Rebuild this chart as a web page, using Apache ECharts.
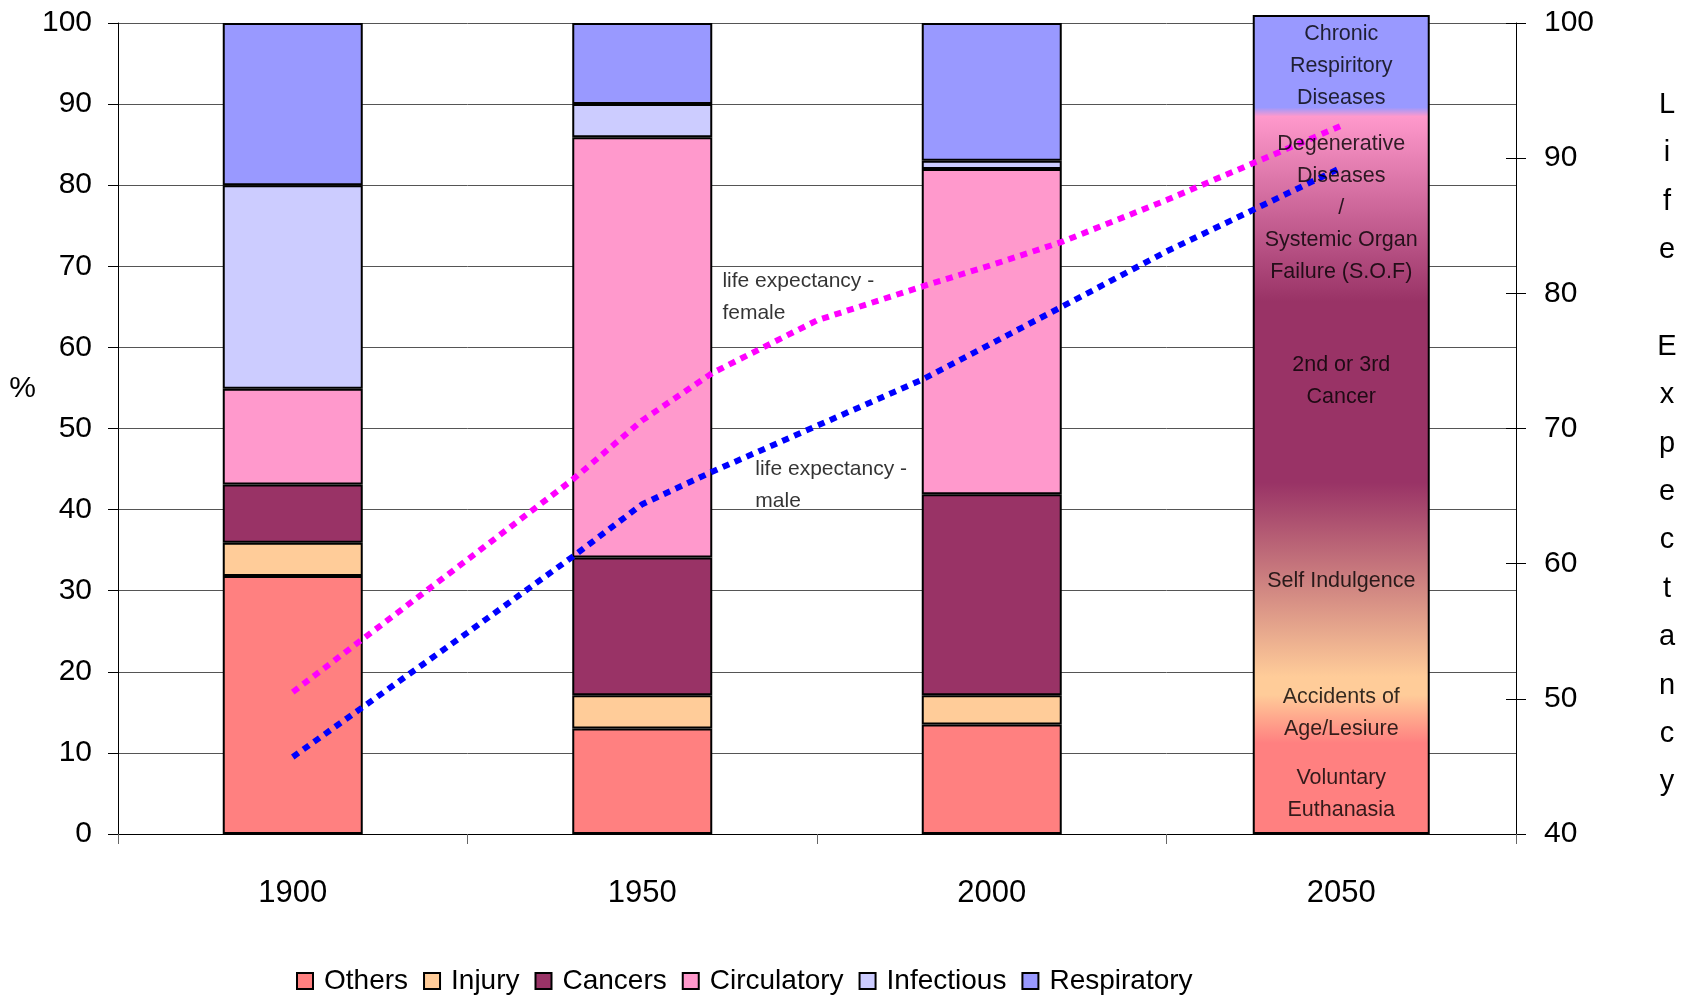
<!DOCTYPE html>
<html>
<head>
<meta charset="utf-8">
<script src="https://cdn.jsdelivr.net/npm/echarts@6/dist/echarts.min.js"></script>
<style>html,body{margin:0;padding:0;background:#fff}#c{width:1686px;height:998px}</style>
</head>
<body>
<div id="c"></div>
<script>
// ---- data ----
const categories = ['1900', '1950', '2000', '2050'];
const others      = [31.8, 13.0, 13.5, '-'];
const injury      = [4.1, 4.1, 3.6, '-'];
const cancers     = [7.2, 17.0, 24.8, '-'];
const circulatory = [11.8, 51.8, 40.1, '-'];
const infectious  = [25.1, 4.1, 1.0, '-'];
const respiratory = [20.0, 10.0, 17.0, '-'];
const seriesNames = ['Others', 'Injury', 'Cancers', 'Circulatory', 'Infectious', 'Respiratory'];
const projectionBox = ['-', '-', '-', 101];
const projectionLabels = [
  ['2050', 94.7, 'Chronic\nRespiritory\nDiseases'],
  ['2050', 77.2, 'Degenerative\nDiseases\n/\nSystemic Organ\nFailure (S.O.F)'],
  ['2050', 55.8, '2nd or 3rd\nCancer'],
  ['2050', 31.2, 'Self Indulgence'],
  ['2050', 14.9, 'Accidents of\nAge/Lesiure'],
  ['2050', 4.9, 'Voluntary\nEuthanasia']
];
const femaleLE = [[1900, 50.5], [1925, 60.3], [1940, 66.2], [1950, 70.6], [1960, 74.1], [1975, 78.0], [1990, 80.5], [2000, 82.1], [2010, 83.8], [2025, 86.9], [2050, 92.4]];
const maleLE   = [[1900, 45.7], [1925, 54.9], [1940, 60.5], [1950, 64.4], [1960, 66.8], [1975, 70.2], [1990, 73.6], [2000, 76.3], [2010, 79.0], [2025, 83.1], [2050, 89.3]];
const lineLabels = [
  [1961.4, 79.7, 'life expectancy -\nfemale'],
  [1966.1, 65.8, 'life expectancy -\nmale']
];
const rightAxisTitle = 'Life Expectancy';
const leftTicks = {min: 0, max: 100, interval: 10};
const rightTicks = {min: 40, max: 100, interval: 10};
const yearRange = {min: 1875, max: 2075};

// ---- styles ----
const colors = ['#FF8080', '#FFCC99', '#993366', '#FF99CC', '#CCCCFF', '#9999FF'];
const FONT = 'Liberation Sans, Arial, sans-serif';
const values = [others, injury, cancers, circulatory, infectious, respiratory];

const chart = echarts.init(document.getElementById('c'), null, {renderer: 'canvas'});

const barSeries = seriesNames.map((n, i) => ({
  name: n, type: 'bar', stack: 'total', xAxisIndex: 0, yAxisIndex: 0,
  barWidth: 140, data: values[i], z: 2,
  itemStyle: {color: colors[i], borderColor: '#000', borderWidth: 2}
}));

// vertical stacked letters, with a small spacer line on top
const verticalTitle = '{s| }\n' + rightAxisTitle.split('').map(ch => ch === ' ' ? '' : ch).join('\n');

const option = {
  animation: false,
  backgroundColor: '#fff',
  textStyle: {fontFamily: FONT},
  grid: {left: 118, right: 170, top: 23, bottom: 164, containLabel: false, outerBoundsMode: 'none'},
  legend: {
    data: seriesNames, top: 962, left: 291,
    itemWidth: 16, itemHeight: 16, itemGap: 15,
    icon: 'rect',
    textStyle: {fontSize: 28, color: '#000', fontFamily: FONT, padding: [0, 0, 0, 6]}
  },
  xAxis: [
    {type: 'category', data: categories, position: 'bottom',
     axisLine: {show: true, lineStyle: {color: '#000', width: 1}},
     axisTick: {show: true, length: 10, lineStyle: {color: '#666'}},
     axisLabel: {fontSize: 31, margin: 44, color: '#000', fontFamily: FONT},
     splitLine: {show: false}},
    {type: 'category', data: categories, show: false},
    {type: 'value', min: yearRange.min, max: yearRange.max, show: false}
  ],
  yAxis: [
    {type: 'value', min: leftTicks.min, max: leftTicks.max, interval: leftTicks.interval, position: 'left',
     name: '%\n ', nameLocation: 'middle', nameRotate: 0, nameGap: 75,
     nameTextStyle: {fontSize: 30, lineHeight: 80, color: '#000', fontFamily: FONT},
     axisLine: {show: true, lineStyle: {color: '#000', width: 1}},
     axisTick: {show: true, length: 10, lineStyle: {color: '#000'}},
     axisLabel: {fontSize: 30, margin: 26, color: '#000', fontFamily: FONT},
     splitLine: {show: true, lineStyle: {color: '#555', width: 1}}},
    {type: 'value', min: rightTicks.min, max: rightTicks.max, interval: rightTicks.interval, position: 'right',
     name: verticalTitle, nameLocation: 'middle', nameRotate: 0, nameGap: 151,
     nameTextStyle: {fontSize: 29, lineHeight: 48.4, color: '#000', fontFamily: FONT, align: 'center',
                     rich: {s: {fontSize: 10, lineHeight: 30}}},
     axisLine: {show: true, lineStyle: {color: '#000', width: 1}},
     axisTick: {show: true, length: 10, lineStyle: {color: '#000'}},
     axisLabel: {fontSize: 30, margin: 28, color: '#000', fontFamily: FONT},
     splitLine: {show: false}},
    {type: 'value', min: rightTicks.min, max: rightTicks.max, interval: rightTicks.interval, position: 'right',
     axisLine: {show: false},
     axisTick: {show: true, inside: true, length: 10, lineStyle: {color: '#000'}},
     axisLabel: {show: false}, splitLine: {show: false}}
  ],
  series: [
    ...barSeries,
    {name: 'projection', type: 'bar', xAxisIndex: 1, yAxisIndex: 0, barWidth: 177, data: projectionBox, z: 2,
     clip: false,
     itemStyle: {
       borderColor: '#000', borderWidth: 2,
       color: new echarts.graphic.LinearGradient(0, 0, 0, 1, [
         {offset: 0, color: '#9999FF'},
         {offset: 0.113, color: '#9999FF'},
         {offset: 0.124, color: '#FF99CC'},
         {offset: 0.35, color: '#993366'},
         {offset: 0.571, color: '#993366'},
         {offset: 0.808, color: '#FFCC99'},
         {offset: 0.83, color: '#FFCC99'},
         {offset: 0.889, color: '#FF8080'},
         {offset: 1, color: '#FF8080'}
       ])
     }},
    {name: 'life expectancy - female', type: 'line', xAxisIndex: 2, yAxisIndex: 1, data: femaleLE,
     symbol: 'none', z: 5, lineStyle: {color: '#FF00FF', width: 6, type: [7, 6], cap: 'butt'}},
    {name: 'life expectancy - male', type: 'line', xAxisIndex: 2, yAxisIndex: 1, data: maleLE,
     symbol: 'none', z: 5, lineStyle: {color: '#0000FF', width: 6, type: [7, 6], cap: 'butt'}},
    {name: 'projLabels', type: 'scatter', xAxisIndex: 1, yAxisIndex: 0, data: projectionLabels,
     symbolSize: 1, itemStyle: {color: 'rgba(0,0,0,0)'}, z: 10, clip: false,
     label: {show: true, position: 'inside', formatter: p => p.value[2],
             fontSize: 21.5, lineHeight: 32, color: '#000', fontFamily: FONT, align: 'center'}},
    {name: 'lineLabels', type: 'scatter', xAxisIndex: 2, yAxisIndex: 1, data: lineLabels,
     symbolSize: 1, itemStyle: {color: 'rgba(0,0,0,0)'}, z: 10,
     label: {show: true, position: 'right', distance: 0, formatter: p => p.value[2],
             fontSize: 21, lineHeight: 32, color: '#000', fontFamily: FONT, align: 'left'}}
  ]
};
chart.setOption(option);
</script>
</body>
</html>
